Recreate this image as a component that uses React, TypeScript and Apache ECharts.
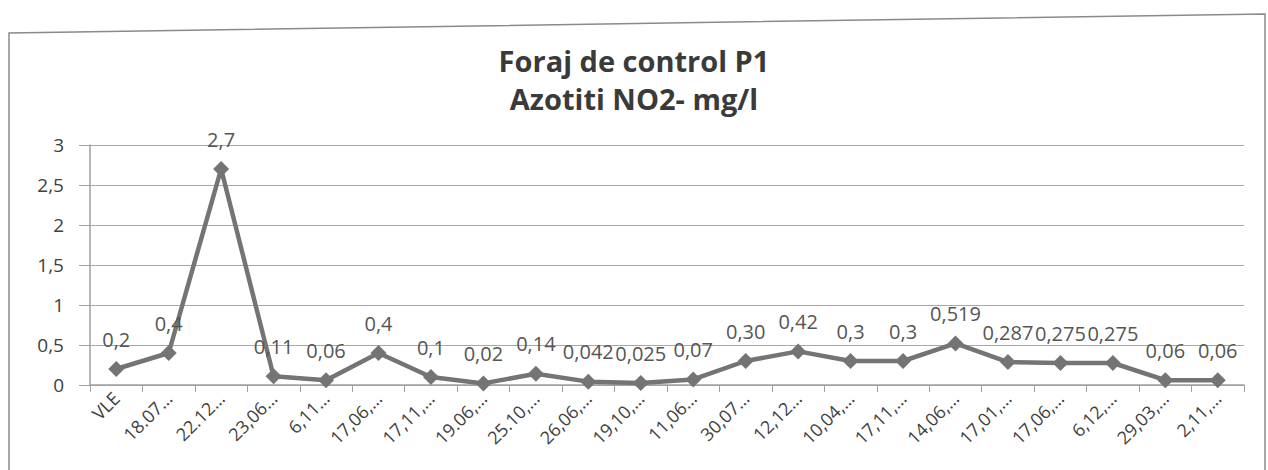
import React, { useEffect, useRef } from "react";
import * as echarts from "echarts";

const titleLines = ["Foraj de control P1", "Azotiti NO2- mg/l"];
const categories = [
  "VLE", "18.07…", "22.12…", "23,06…", "6,11…", "17,06,…", "17,11,…", "19.06,…",
  "25.10,…", "26,06,…", "19,10,…", "11,06…", "30,07…", "12,12…", "10,04,…",
  "17,11,…", "14,06,…", "17,01,…", "17,06,…", "6,12,…", "29,03,…", "2,11,…",
];
const values = [
  0.2, 0.4, 2.7, 0.11, 0.06, 0.4, 0.1, 0.02, 0.14, 0.042, 0.025, 0.07,
  0.3, 0.42, 0.3, 0.3, 0.519, 0.287, 0.275, 0.275, 0.06, 0.06,
];
const valueLabels = [
  "0,2", "0,4", "2,7", "0,11", "0,06", "0,4", "0,1", "0,02", "0,14", "0,042", "0,025", "0,07",
  "0,30", "0,42", "0,3", "0,3", "0,519", "0,287", "0,275", "0,275", "0,06", "0,06",
];
const yTicks = [0, 0.5, 1, 1.5, 2, 2.5, 3];

const FONT = "'Open Sans', Lato, sans-serif";

export default function App() {
  const ref = useRef<HTMLDivElement>(null);
  useEffect(() => {
    if (!ref.current) return;
    const chart = echarts.init(ref.current, undefined, { renderer: "svg" });
    chart.setOption({
      animation: false,
      backgroundColor: "#ffffff",
      title: {
        text: titleLines.join("\n"),
        left: "center",
        top: 36,
        textStyle: {
          fontFamily: FONT,
          fontSize: 29,
          fontWeight: "bold",
          color: "#3a3a3a",
          lineHeight: 38,
        },
      },
      graphic: [
        {
          type: "polyline",
          shape: { points: [[9, 480], [9, 33], [1265, 14], [1265, 480]] },
          style: { stroke: "#8a8a8a", lineWidth: 1.5, fill: "none" },
        },
      ],
      grid: { left: 90, right: 24, top: 145, height: 240 },
      xAxis: {
        type: "category",
        data: categories,
        boundaryGap: true,
        axisLine: { lineStyle: { color: "#a0a0a0", width: 1.5 } },
        axisTick: { show: true, alignWithLabel: false, length: 7, lineStyle: { color: "#a0a0a0" } },
        axisLabel: {
          rotate: 45,
          interval: 0,
          fontFamily: FONT,
          fontSize: 18,
          color: "#404040",
          margin: 10,
        },
      },
      yAxis: {
        type: "value",
        min: 0,
        max: 3,
        interval: 0.5,
        axisLine: { show: true, lineStyle: { color: "#a0a0a0", width: 1.5 } },
        axisTick: { show: true, inside: false, length: 11, lineStyle: { color: "#a0a0a0" } },
        splitLine: { show: true, lineStyle: { color: "#a8a8a8", width: 1.2 } },
        axisLabel: {
          fontFamily: FONT,
          fontSize: 19,
          color: "#404040",
          margin: 26,
          formatter: (v: number) => (yTicks.includes(v) ? String(v).replace(".", ",") : ""),
        },
      },
      series: [
        {
          type: "line",
          data: values,
          symbol: "diamond",
          symbolSize: 16,
          lineStyle: { color: "#747474", width: 4.5 },
          itemStyle: { color: "#747474" },
          label: {
            show: true,
            position: "top",
            distance: 12,
            fontFamily: FONT,
            fontSize: 20,
            color: "#555555",
            formatter: (p: any) => valueLabels[p.dataIndex],
          },
        },
      ],
    });
    return () => chart.dispose();
  }, []);
  return (
    <div
      ref={ref}
      style={{ position: "fixed", left: 0, top: 0, width: 1268, height: 470 }}
    />
  );
}
